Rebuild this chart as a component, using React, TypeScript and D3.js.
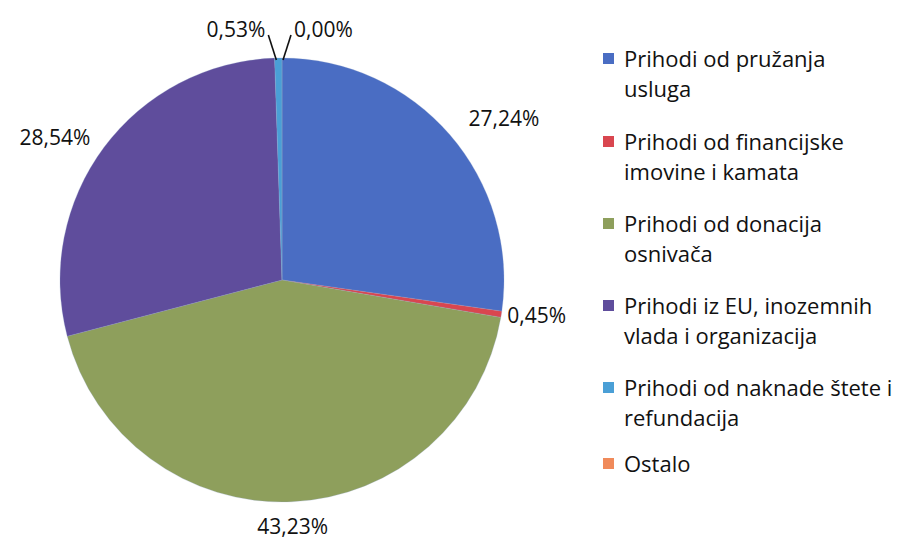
import React from "react";
import * as d3 from "d3";

const categories = [
  "Prihodi od pružanja usluga",
  "Prihodi od financijske imovine i kamata",
  "Prihodi od donacija osnivača",
  "Prihodi iz EU, inozemnih vlada i organizacija",
  "Prihodi od naknade štete i refundacija",
  "Ostalo",
];
const values = [27.24, 0.45, 43.23, 28.54, 0.53, 0.0];
const valueLabels = ["27,24%", "0,45%", "43,23%", "28,54%", "0,53%", "0,00%"];
const legendLines = [
  ["Prihodi od pružanja", "usluga"],
  ["Prihodi od financijske", "imovine i kamata"],
  ["Prihodi od donacija", "osnivača"],
  ["Prihodi iz EU, inozemnih", "vlada i organizacija"],
  ["Prihodi od naknade štete i", "refundacija"],
  ["Ostalo"],
];
const colors = ["#4a6dc3", "#d9464f", "#8e9f5c", "#5f4d9c", "#4a9fd6", "#f08a5a"];

// label placement styling (radius from center)
const labelRadius = [247, 228, 246, 239, 0, 0];
const FONT = "'Open Sans', Lato, sans-serif";

export default function App() {
  const W = 910, H = 540;
  const cx = 282, cy = 280, r = 222;
  const pie = d3.pie<number>().sort(null).value((d) => d)(values);
  const arc = d3.arc<d3.PieArcDatum<number>>().innerRadius(0).outerRadius(r);

  const labels = pie.map((p, i) => {
    const mid = (p.startAngle + p.endAngle) / 2;
    if (i < 4) {
      const R = labelRadius[i];
      const x = R * Math.sin(mid);
      const y = -R * Math.cos(mid);
      const s = Math.sin(mid);
      const anchor = s > 0.3 ? "start" : s < -0.3 ? "end" : "middle";
      return (
        <text key={i} x={x} y={y} textAnchor={anchor} dominantBaseline="central"
          fontSize={21} fontFamily={FONT} fill="#111">{valueLabels[i]}</text>
      );
    }
    // small slices at top: leader lines split left / right
    const px = (r - 2) * Math.sin(mid) + (i === 4 ? -2 : 1);
    const py = -(r - 2) * Math.cos(mid);
    const side = i === 4 ? -1 : 1;
    const ex = px + side * 8;
    const ey = py - 25;
    return (
      <g key={i}>
        <line x1={px} y1={py} x2={ex} y2={ey} stroke="#111" strokeWidth={1.6} />
        <text x={ex + side * 3} y={ey - 6} textAnchor={i === 4 ? "end" : "start"}
          dominantBaseline="central" fontSize={21} fontFamily={FONT} fill="#111">{valueLabels[i]}</text>
      </g>
    );
  });

  const legendY = [67, 150, 232, 314, 396, 472];

  return (
    <svg width={W} height={H} style={{ position: "absolute", left: 0, top: 0, background: "#fff" }}>
      <rect width={W} height={H} fill="#fff" />
      <g transform={`translate(${cx},${cy})`}>
        {pie.map((p, i) => (
          <path key={i} d={arc(p) || ""} fill={colors[i]} stroke="#8aa0c8" strokeWidth={0.5} strokeOpacity={0.5} />
        ))}
        {labels}
      </g>
      <g>
        {categories.map((c, i) => (
          <g key={c}>
            <rect x={603} y={legendY[i] - 14} width={11} height={11} fill={colors[i]} />
            {legendLines[i].map((t, j) => (
              <text key={j} x={624} y={legendY[i] + j * 30} fontSize={22} fontFamily={FONT} fill="#111">{t}</text>
            ))}
          </g>
        ))}
      </g>
    </svg>
  );
}
